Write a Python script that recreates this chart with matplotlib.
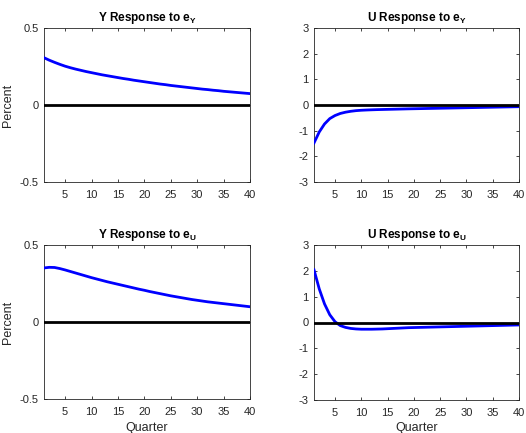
import numpy as np
import matplotlib
matplotlib.use("Agg")
import matplotlib.pyplot as plt

plt.rcParams['font.family'] = ['Liberation Sans', 'DejaVu Sans']
plt.rcParams['mathtext.fontset'] = 'custom'
plt.rcParams['mathtext.rm'] = 'Liberation Sans'
plt.rcParams['mathtext.bf'] = 'Liberation Sans:bold'

quarters = list(range(1, 41))

y_to_ey = [0.307, 0.291, 0.277, 0.264, 0.252, 0.242, 0.233, 0.225, 0.217, 0.210,
           0.203, 0.196, 0.190, 0.184, 0.178, 0.172, 0.167, 0.161, 0.156, 0.151,
           0.146, 0.141, 0.136, 0.132, 0.127, 0.123, 0.119, 0.115, 0.111, 0.107,
           0.103, 0.100, 0.096, 0.093, 0.089, 0.086, 0.083, 0.080, 0.077, 0.074]

u_to_ey = [-1.48, -1.05, -0.74, -0.53, -0.41, -0.33, -0.28, -0.245, -0.22, -0.205,
           -0.195, -0.187, -0.180, -0.175, -0.170, -0.165, -0.160, -0.155, -0.150, -0.146,
           -0.142, -0.138, -0.134, -0.130, -0.126, -0.122, -0.118, -0.114, -0.110, -0.106,
           -0.102, -0.098, -0.094, -0.090, -0.086, -0.082, -0.078, -0.074, -0.070, -0.066]

y_to_eu = [0.351, 0.355, 0.354, 0.347, 0.338, 0.328, 0.318, 0.308, 0.298, 0.288,
           0.279, 0.270, 0.261, 0.253, 0.245, 0.237, 0.229, 0.221, 0.213, 0.206,
           0.198, 0.191, 0.184, 0.177, 0.170, 0.164, 0.158, 0.152, 0.146, 0.141,
           0.136, 0.131, 0.127, 0.123, 0.119, 0.115, 0.111, 0.107, 0.103, 0.099]

u_to_eu = [2.04, 1.30, 0.72, 0.30, 0.03, -0.12, -0.19, -0.23, -0.25, -0.26,
           -0.26, -0.26, -0.255, -0.25, -0.24, -0.23, -0.22, -0.21, -0.20, -0.195,
           -0.19, -0.185, -0.18, -0.175, -0.17, -0.165, -0.16, -0.155, -0.15, -0.145,
           -0.14, -0.135, -0.13, -0.125, -0.12, -0.115, -0.11, -0.105, -0.10, -0.095]

titles = [r"Y Response to $\mathbf{e}_{\mathbf{Y}}$", r"U Response to $\mathbf{e}_{\mathbf{Y}}$",
          r"Y Response to $\mathbf{e}_{\mathbf{U}}$", r"U Response to $\mathbf{e}_{\mathbf{U}}$"]
series = [y_to_ey, u_to_ey, y_to_eu, u_to_eu]
xticks = [5, 10, 15, 20, 25, 30, 35, 40]
yticks_y = [-0.5, 0, 0.5]
yticklabels_y = ["-0.5", "0", "0.5"]
yticks_u = [-3, -2, -1, 0, 1, 2, 3]
yticklabels_u = ["-3", "-2", "-1", "0", "1", "2", "3"]

W, H = 526, 433
fig = plt.figure(figsize=(W / 100, H / 100), dpi=100)
fig.patch.set_facecolor('white')

# pixel boxes: left, top, right, bottom
boxes = [(44, 28, 250, 182), (314, 28, 519, 182),
         (44, 245, 250, 399), (314, 245, 519, 400)]
gray = (0.15, 0.15, 0.15)
for i, (l, t, r, b) in enumerate(boxes):
    ax = fig.add_axes([l / W, 1 - b / H, (r - l) / W, (b - t) / H])
    ax.plot(quarters, series[i], color='#0000ff', lw=2, zorder=3)
    ax.axhline(0, color='black', lw=2, zorder=4)
    ax.set_xlim(1, 40)
    ax.set_xticks(xticks)
    if i % 2 == 0:
        ax.set_ylim(-0.5, 0.5)
        ax.set_yticks(yticks_y)
        ax.set_yticklabels(yticklabels_y)
        ax.set_ylabel("Percent", fontsize=9, color=gray, labelpad=4)
    else:
        ax.set_ylim(-3, 3)
        ax.set_yticks(yticks_u)
        ax.set_yticklabels(yticklabels_u)
    if i >= 2:
        ax.set_xlabel("Quarter", fontsize=9, color=gray, labelpad=3)
    ax.set_title(titles[i], fontsize=8.5, fontweight='bold', pad=5)
    ax.tick_params(direction='in', length=2.5, width=0.6, labelsize=8,
                   colors=gray, top=True, right=True)
    ax.tick_params(axis='x', pad=6)
    ax.tick_params(axis='y', pad=4)
    for s in ax.spines.values():
        s.set_color(gray)
        s.set_linewidth(0.6)

fig.savefig("out.png", dpi=100)
